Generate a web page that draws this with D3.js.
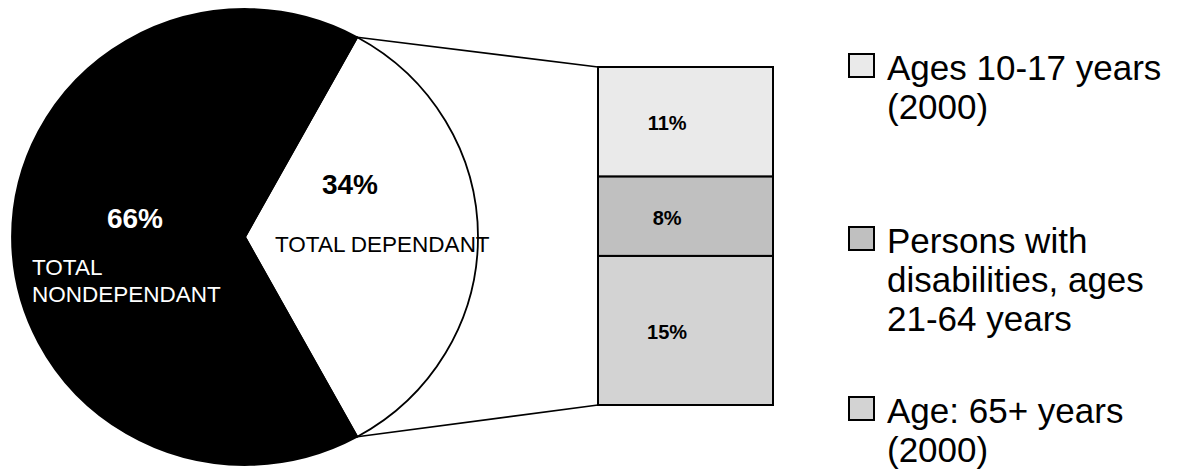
<!DOCTYPE html>
<html>
<head>
<meta charset="utf-8">
<script src="https://cdn.jsdelivr.net/npm/d3@7"></script>
<style>
  html, body { margin: 0; padding: 0; background: #fff; }
  svg { display: block; font-family: Arial, "Liberation Sans", sans-serif; }
</style>
</head>
<body>
<svg id="chart" width="1185" height="476"></svg>
<script>
// Pie: share of population, dependant vs nondependant
const pieCategories = ["TOTAL DEPENDANT", "TOTAL NONDEPENDANT"];
const pieValues = [34, 66];
const pieLabels = ["34%", "66%"];

// Breakdown of the dependant share (stacked bottom to top)
const barCategories = ["Age: 65+ years (2000)", "Persons with disabilities, ages 21-64 years", "Ages 10-17 years (2000)"];
const barValues = [15, 8, 11];
const barLabels = ["15%", "8%", "11%"];
const barColors = ["#d3d3d3", "#c0c0c0", "#eaeaea"];

// Legend entries, top to bottom, with wrapped lines
const legendLines = [
  ["Ages 10-17 years", "(2000)"],
  ["Persons with", "disabilities, ages", "21-64 years"],
  ["Age: 65+ years", "(2000)"]
];
const legendColors = ["#eaeaea", "#c0c0c0", "#d3d3d3"];

const svg = d3.select("#chart");

// ---- pie (slightly wider than tall) ----
const cx = 245, cy = 237, rx = 233, ry = 228;
const depShare = pieValues[0] / d3.sum(pieValues);
const start = Math.PI / 2 - depShare * Math.PI;   // centre the dependant slice on the right

const pie = d3.pie().sort(null).startAngle(start).endAngle(start + 2 * Math.PI);
const arcs = pie(pieValues);
const arc = d3.arc().innerRadius(0).outerRadius(ry);

const pieG = svg.append("g")
  .attr("transform", `translate(${cx},${cy}) scale(${rx / ry},1)`);

pieG.selectAll("path")
  .data(arcs)
  .join("path")
  .attr("d", arc)
  .attr("fill", (d, i) => i === 0 ? "#ffffff" : "#000000")
  .attr("stroke", "#000")
  .attr("stroke-width", 1.8)
  .attr("vector-effect", "non-scaling-stroke")
  .attr("stroke-linejoin", "round");

// point on the ellipse for a d3 angle (clockwise from 12 o'clock)
const onPie = a => [cx + rx * Math.sin(a), cy - ry * Math.cos(a)];

// ---- stacked bar ----
const barX = 598, barW = 175;
const y = d3.scaleLinear().domain([0, d3.sum(barValues)]).range([405, 67]);
const stackData = [];
let acc = 0;
barValues.forEach((v, i) => { stackData.push({ v, y0: acc, y1: acc + v, i }); acc += v; });

// connector lines from slice edges to bar corners
const dep = arcs[0];
const pTop = onPie(dep.startAngle);
const pBot = onPie(dep.endAngle);
svg.append("line")
  .attr("x1", pTop[0]).attr("y1", pTop[1])
  .attr("x2", barX).attr("y2", y(d3.sum(barValues)))
  .attr("stroke", "#000").attr("stroke-width", 1.6);
svg.append("line")
  .attr("x1", pBot[0]).attr("y1", pBot[1])
  .attr("x2", barX).attr("y2", y(0))
  .attr("stroke", "#000").attr("stroke-width", 1.6);

svg.append("g").selectAll("rect")
  .data(stackData)
  .join("rect")
  .attr("x", barX)
  .attr("y", d => y(d.y1))
  .attr("width", barW)
  .attr("height", d => y(d.y0) - y(d.y1))
  .attr("fill", d => barColors[d.i])
  .attr("stroke", "#000")
  .attr("stroke-width", 2);

svg.append("g").selectAll("text")
  .data(stackData)
  .join("text")
  .attr("x", barX + barW * 0.395)
  .attr("y", d => (y(d.y0) + y(d.y1)) / 2)
  .attr("dy", "0.42em")
  .attr("text-anchor", "middle")
  .attr("font-size", 20)
  .attr("font-weight", "bold")
  .attr("fill", "#000")
  .text(d => barLabels[d.i]);

// ---- pie labels ----
svg.append("text")
  .attr("x", 135).attr("y", 228)
  .attr("text-anchor", "middle")
  .attr("font-size", 28).attr("font-weight", "bold")
  .attr("fill", "#fff")
  .text(pieLabels[1]);
const nd = svg.append("text")
  .attr("x", 32).attr("y", 275)
  .attr("font-size", 22.5).attr("fill", "#fff");
nd.append("tspan").attr("x", 32).text("TOTAL");
nd.append("tspan").attr("x", 32).attr("dy", 27).text("NONDEPENDANT");

svg.append("text")
  .attr("x", 350).attr("y", 194)
  .attr("text-anchor", "middle")
  .attr("font-size", 28).attr("font-weight", "bold")
  .attr("fill", "#000")
  .text(pieLabels[0]);
svg.append("text")
  .attr("x", 275).attr("y", 252)
  .attr("font-size", 22.5).attr("fill", "#000")
  .text(pieCategories[0]);

// ---- legend ----
const legendBase = [80, 253, 423];
const lineGap = 39;
const legend = svg.append("g");
legendLines.forEach((lines, i) => {
  const b = legendBase[i];
  legend.append("rect")
    .attr("x", 849).attr("y", b - 26)
    .attr("width", 25).attr("height", 23)
    .attr("fill", legendColors[i])
    .attr("stroke", "#000").attr("stroke-width", 2);
  const t = legend.append("text")
    .attr("x", 887).attr("y", b)
    .attr("font-size", 35).attr("fill", "#000");
  lines.forEach((s, j) => {
    t.append("tspan").attr("x", 887).attr("dy", j === 0 ? 0 : lineGap).text(s);
  });
});
</script>
</body>
</html>
